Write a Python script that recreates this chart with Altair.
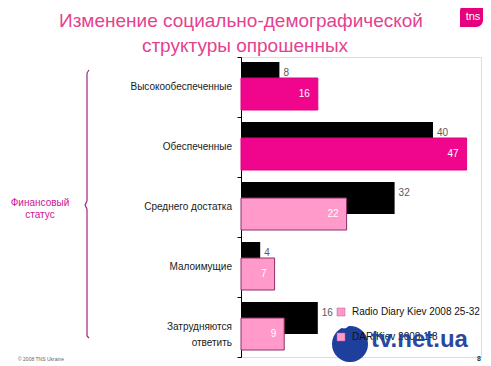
import altair as alt
import pandas as pd

# ---------------- data ----------------
categories = ["Высокообеспеченные", "Обеспеченные", "Среднего достатка",
              "Малоимущие", "Затрудняются ответить"]
category_labels = ["Высокообеспеченные", "Обеспеченные", "Среднего достатка",
                   "Малоимущие", "Затрудняются\nответить"]
series_black = [8, 40, 32, 4, 16]
series_pink = [16, 47, 22, 7, 9]
hot_pink_categories = ["Высокообеспеченные", "Обеспеченные"]
legend_names = ["Radio Diary Kiev 2008 25-32", "DAR Kiev 2008 1-8"]
title_lines = ["Изменение социально-демографической", "структуры опрошенных"]
group_label = ["Финансовый", "статус"]
footer_text = "© 2008 TNS Ukraine"
page_number = "8"

df = pd.DataFrame({
    "cat": categories,
    "label": category_labels,
    "black": series_black,
    "pink": series_pink,
})

FONT = "Liberation Sans"
X = alt.Scale(domain=[0, 50])
Y = alt.Scale(domain=categories, paddingInner=0, paddingOuter=0)
y_enc = alt.Y("cat:N", scale=Y, sort=categories,
              axis=alt.Axis(title=None, labels=False, domainColor="black",
                            tickColor="black", tickSize=4, tickBand="extent",
                            domainWidth=1, tickWidth=1, grid=False))

base = alt.Chart(df)

black_bars = base.mark_bar(color="black", size=32, yOffset=-9).encode(
    y=y_enc, x=alt.X("black:Q", scale=X, axis=None))

is_hot = alt.FieldOneOfPredicate(field="cat", oneOf=hot_pink_categories)
pink_bars = base.mark_bar(size=32, yOffset=7, strokeWidth=1).encode(
    y=y_enc, x=alt.X("pink:Q", scale=X, axis=None),
    color=alt.condition(is_hot, alt.value("#F0068C"), alt.value("#FF9ACB")),
    stroke=alt.condition(is_hot, alt.value("#E0047F"), alt.value("#8E2F66")),
)

black_text = base.mark_text(align="left", baseline="middle", dx=4, yOffset=-14,
                            fontSize=10, font=FONT, color="#5a5a5a").encode(
    y=y_enc, x=alt.X("black:Q", scale=X, axis=None), text="black:Q")

pink_text = base.mark_text(align="right", baseline="middle", dx=-8, yOffset=7,
                           fontSize=10, font=FONT, color="white").encode(
    y=y_enc, x=alt.X("pink:Q", scale=X, axis=None), text="pink:Q")

cat_text = base.mark_text(align="right", baseline="middle", lineBreak="\n",
                          lineHeight=16, fontSize=10, font=FONT,
                          color="#1a1a1a").encode(
    y=y_enc, x=alt.value(-9), text="label:N")


def note(text, x, y, **kw):
    return alt.Chart(pd.DataFrame({"t": [text]})).mark_text(**kw).encode(
        x=alt.value(x), y=alt.value(y), text="t:N")


# title
title1 = note(title_lines[0], 0, -36, fontSize=19, font=FONT, color="#E4428F",
              align="center", baseline="middle")
title2 = note(title_lines[1], 4, -11, fontSize=19, font=FONT, color="#E4428F",
              align="center", baseline="middle")

# tns logo
one = pd.DataFrame({"a": [0]})
logo_box = alt.Chart(one).mark_rect(color="#E6007E", cornerRadiusTopLeft=7,
                                    cornerRadiusBottomRight=7).encode(
    x=alt.value(219), x2=alt.value(242), y=alt.value(-53), y2=alt.value(-30))
logo_text = note("tns", 232, -40, fontSize=11, font=FONT, color="white",
                 align="center", baseline="middle")

# group label and brace
g1 = note(group_label[0], -201, 146, fontSize=10, font=FONT, color="#CC1393",
          align="center", baseline="middle")
g2 = note(group_label[1], -201, 158, fontSize=10, font=FONT, color="#CC1393",
          align="center", baseline="middle")
BR = "#A2237F"
brace_parts = [
    (-154, -154, 16, 144),
    (-154, -156, 144, 148),
    (-156, -154, 148, 152),
    (-154, -154, 152, 279),
    (-154, -152, 16, 13),
    (-154, -152, 279, 281),
]
brace = [alt.Chart(one).mark_rule(color=BR, strokeWidth=1.2).encode(
    x=alt.value(a), x2=alt.value(b), y=alt.value(c), y2=alt.value(d))
    for a, b, c, d in brace_parts]

# watermark blob (behind legend)
blob = alt.Chart(one).mark_point(filled=True, color="#1E3F9C", opacity=1,
                                 size=1300, shape="circle").encode(
    x=alt.value(109), y=alt.value(287))
blob_head = alt.Chart(one).mark_point(filled=True, color="white", opacity=1,
                                      size=120, shape="circle").encode(
    x=alt.value(103), y=alt.value(266))

# legend
leg = []
for i, name in enumerate(legend_names):
    yy = 255 + 25 * i
    leg.append(alt.Chart(one).mark_rect(color="#FF9ACB", stroke="#C05A90",
                                        strokeWidth=0.5).encode(
        x=alt.value(96), x2=alt.value(104), y=alt.value(yy - 4),
        y2=alt.value(yy + 4)))
    leg.append(note(name, 111, yy, fontSize=10, font=FONT, color="#111111",
                    align="left", baseline="middle"))

watermark = note("tv.net.ua", 130, 283, fontSize=24, font=FONT,
                 fontWeight="bold", color="#1E3F9C", align="left",
                 baseline="middle", opacity=0.95)

footer = note(footer_text, -223, 302, fontSize=5, font=FONT, color="#666666",
              align="left", baseline="middle")
page = note(page_number, 240, 302, fontSize=7, font=FONT, fontWeight="bold",
            color="#333333", align="right", baseline="middle")

chart = alt.layer(
    black_bars, pink_bars, black_text, pink_text, cat_text,
    title1, title2, logo_box, logo_text, g1, g2, *brace,
    blob, blob_head, *leg, watermark, footer, page,
).properties(
    width=240, height=300,
    autosize=alt.AutoSizeParams(type="none"),
    padding={"left": 233, "top": 49, "right": 2, "bottom": 5},
).configure_view(stroke=None).configure(background="white")

chart.save("out.html", embed_options={"renderer": "svg", "actions": False})
